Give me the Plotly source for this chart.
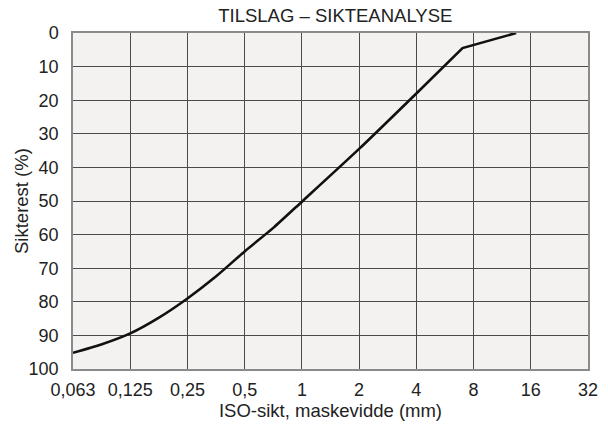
import plotly.graph_objects as go

# Sieve sizes (mm) and residue on sieve (%)
sieve_mm = [0.0625, 0.088, 0.125, 0.177, 0.25, 0.354, 0.5, 0.707, 1, 2, 4, 7, 13.4]
residue_pct = [95.2, 92.7, 89.4, 84.7, 79.0, 72.4, 65.0, 58.0, 50.2, 34.5, 18.0, 4.5, 0]

# Axis ticks
x_tickvals = [0.0625, 0.125, 0.25, 0.5, 1, 2, 4, 8, 16, 32]
x_ticktext = ["0,063", "0,125", "0,25", "0,5", "1", "2", "4", "8", "16", "32"]
y_tickvals = list(range(0, 101, 10))

FONT = "Liberation Sans, Arial, sans-serif"
GRID = "#4a4a4a"
LINE = dict(color="#111111", width=2.6)

# the fine fraction is a smooth curve; the coarse end has a sharp break
split = sieve_mm.index(4)

fig = go.Figure()
fig.add_trace(go.Scatter(
    x=sieve_mm[:split + 1], y=residue_pct[:split + 1], mode="lines",
    line=dict(**LINE, shape="spline", smoothing=0.6),
    hoverinfo="skip", showlegend=False,
))
fig.add_trace(go.Scatter(
    x=sieve_mm[split:], y=residue_pct[split:], mode="lines",
    line=LINE, hoverinfo="skip", showlegend=False,
))

fig.update_layout(
    width=608, height=428,
    margin=dict(l=73, r=10, t=33, b=56),
    paper_bgcolor="white",
    plot_bgcolor="#f4f2f0",
    font=dict(family=FONT, size=18, color="#222222"),
    title=dict(text="TILSLAG – SIKTEANALYSE", x=0.5515, xanchor="center",
               yref="container", y=1 - 16 / 428, yanchor="middle",
               font=dict(size=18.5, color="#222222")),
    annotations=[dict(
        text="Sikterest (%)", textangle=-90,
        xref="paper", yref="paper", x=-0.101, y=0.5,
        xanchor="center", yanchor="middle", showarrow=False,
        font=dict(size=18.5, color="#222222"),
    )],
)

fig.update_xaxes(
    type="log",
    range=[-1.20412, 1.50515],
    tickvals=x_tickvals, ticktext=x_ticktext,
    showgrid=True, gridcolor=GRID, gridwidth=1.3,
    showline=True, linecolor="#8a8a8a", linewidth=1.5, mirror=True,
    ticks="", ticklabelstandoff=4,
    tickfont=dict(size=18),
    zeroline=False,
    title=dict(text="ISO-sikt, maskevidde (mm)", font=dict(size=18.5), standoff=5),
)
fig.update_yaxes(
    range=[100, 0],
    tickvals=y_tickvals,
    showgrid=True, gridcolor=GRID, gridwidth=1.3,
    showline=True, linecolor="#8a8a8a", linewidth=1.5, mirror=True,
    ticks="", ticklabelstandoff=9,
    tickfont=dict(size=18),
    zeroline=False,
)

fig.write_html("out.html")
